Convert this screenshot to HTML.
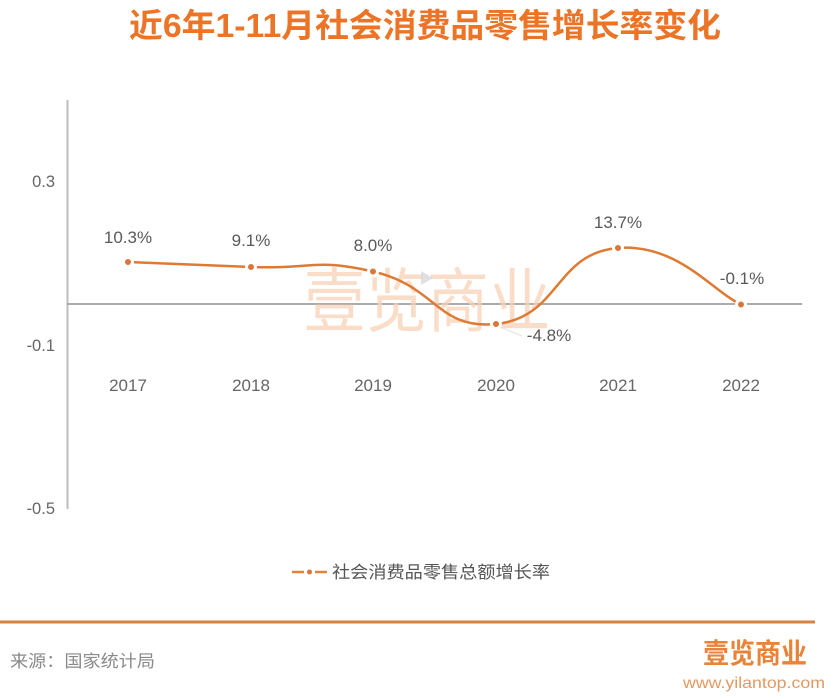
<!DOCTYPE html>
<html><head><meta charset="utf-8"><style>
html,body{margin:0;padding:0;background:#fff;}
svg{display:block;}
</style></head><body>
<svg width="838" height="700" viewBox="0 0 838 700" xmlns="http://www.w3.org/2000/svg">
<rect width="838" height="700" fill="#fff"/>
<text x="425" y="37" text-anchor="middle" font-family="'Liberation Sans','Noto Sans CJK SC',sans-serif" font-weight="bold" font-size="33" fill="#EC7427" textLength="592" lengthAdjust="spacingAndGlyphs">近6年1-11月社会消费品零售增长率变化</text>

<!-- axes -->
<line x1="67.5" y1="100" x2="67.5" y2="509" stroke="#bdbdbd" stroke-width="2"/>
<line x1="67" y1="304" x2="802" y2="304" stroke="#ababab" stroke-width="2"/>

<g font-family="'Liberation Sans','Noto Sans CJK SC',sans-serif" font-size="16.5" fill="#666">
<text x="55" y="187" text-anchor="end">0.3</text>
<text x="55" y="351" text-anchor="end">-0.1</text>
<text x="55" y="514" text-anchor="end">-0.5</text>
</g>
<g font-family="'Liberation Sans','Noto Sans CJK SC',sans-serif" font-size="17" fill="#666">
<text x="128" y="391" text-anchor="middle">2017</text>
<text x="251" y="391" text-anchor="middle">2018</text>
<text x="373" y="391" text-anchor="middle">2019</text>
<text x="496" y="391" text-anchor="middle">2020</text>
<text x="618" y="391" text-anchor="middle">2021</text>
<text x="741" y="391" text-anchor="middle">2022</text>
</g>

<!-- watermark -->
<text x="427" y="326" text-anchor="middle" font-family="'Noto Sans CJK SC',sans-serif" font-size="70" fill="#F8D2B8" opacity="0.75" textLength="247" lengthAdjust="spacingAndGlyphs">壹览商业</text>
<polygon points="421,271 421,285 433,278" fill="#d8d8dc" opacity="0.8"/>

<!-- series -->
<path d="M128,262 C158.75,263.25 189.5,264.6 251,267 C312,269.4 314.6,257.9 373,271.5 C437.1,286.4 437,329.7 496,324 C559.5,317.9 554.9,253 618,248 C677.4,243.3 712,291 741,304.5" fill="none" stroke="#DE7A34" stroke-width="2.5"/>
<line x1="500" y1="327" x2="522" y2="336" stroke="#e2e2e2" stroke-width="1"/>
<g fill="#D9773A" stroke="#fff" stroke-width="3">
<circle cx="128" cy="262" r="4.5"/>
<circle cx="251" cy="267" r="4.5"/>
<circle cx="373" cy="271.5" r="4.5"/>
<circle cx="496" cy="324" r="4.5"/>
<circle cx="618" cy="248" r="4.5"/>
<circle cx="741" cy="304.5" r="4.5"/>
</g>
<g font-family="'Liberation Sans','Noto Sans CJK SC',sans-serif" font-size="17" fill="#595959" text-anchor="middle">
<text x="128" y="243">10.3%</text>
<text x="251" y="246">9.1%</text>
<text x="373" y="251">8.0%</text>
<text x="549" y="341">-4.8%</text>
<text x="618" y="228">13.7%</text>
<text x="742" y="284">-0.1%</text>
</g>

<!-- legend -->
<line x1="292" y1="572" x2="304" y2="572" stroke="#E0833C" stroke-width="2.5"/>
<line x1="315" y1="572" x2="327" y2="572" stroke="#E0833C" stroke-width="2.5"/>
<circle cx="309.5" cy="572" r="2.5" fill="#D9773A"/>
<text x="332" y="578" font-family="'Liberation Sans','Noto Sans CJK SC',sans-serif" font-size="17" fill="#555" textLength="218" lengthAdjust="spacingAndGlyphs">社会消费品零售总额增长率</text>

<!-- footer -->
<rect x="0" y="620.5" width="815" height="3" fill="#D9823F"/>
<text x="10" y="667" font-family="'Liberation Sans','Noto Sans CJK SC',sans-serif" font-size="17" fill="#8a8a8a" textLength="145" lengthAdjust="spacingAndGlyphs">来源：国家统计局</text>
<text x="703" y="663" font-family="'Noto Sans CJK SC',sans-serif" font-weight="bold" font-size="28" fill="#E8833A" textLength="104" lengthAdjust="spacingAndGlyphs">壹览商业</text>
<text x="683" y="688" font-family="'Liberation Sans',sans-serif" font-size="16" fill="#E39A62" textLength="142" lengthAdjust="spacingAndGlyphs">www.yilantop.com</text>
</svg>
</body></html>
